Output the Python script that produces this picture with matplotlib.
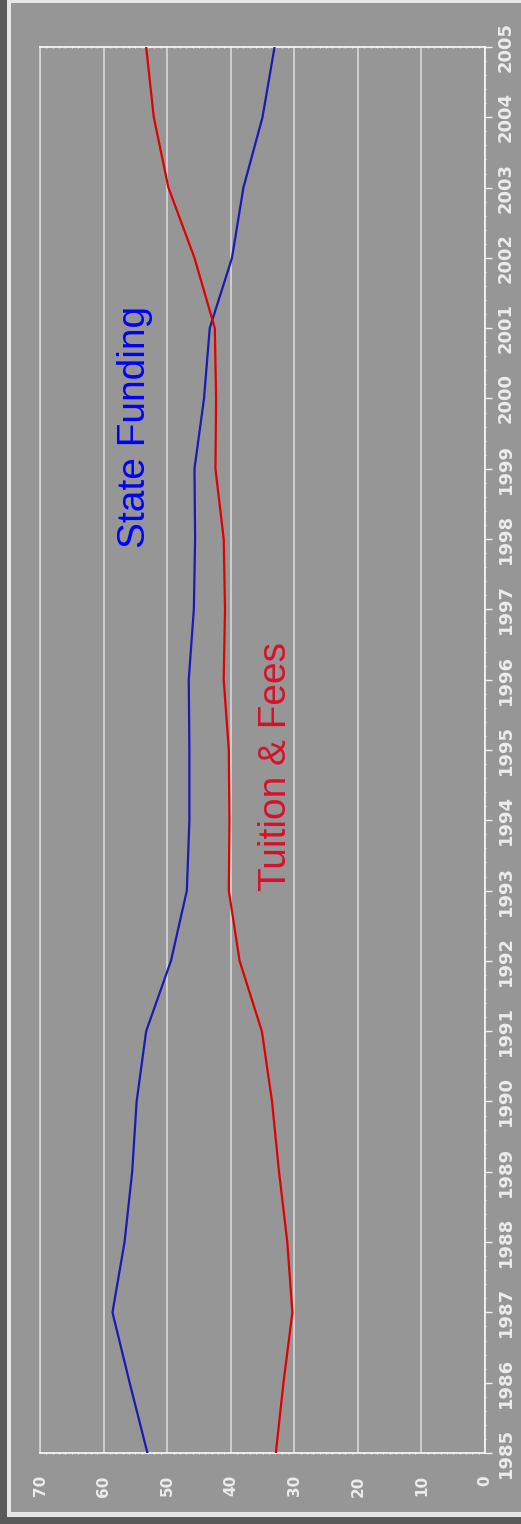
import matplotlib
matplotlib.use("Agg")
import matplotlib.pyplot as plt
from matplotlib.patches import Rectangle
from matplotlib.ticker import MultipleLocator

years = list(range(1985, 2006))
state_funding = [53.1, 55.9, 58.6, 56.7, 55.5, 54.8, 53.3, 49.4, 46.9, 46.5, 46.5,
                 46.6, 45.8, 45.6, 45.7, 44.2, 43.3, 39.8, 38.0, 35.0, 33.1]
tuition_fees = [32.9, 31.7, 30.3, 31.1, 32.4, 33.5, 35.1, 38.6, 40.3, 40.2, 40.3,
                41.1, 40.9, 41.1, 42.4, 42.3, 42.5, 45.7, 49.8, 52.1, 53.3]
value_ticks = [0, 10, 20, 30, 40, 50, 60, 70]
series_labels = ["State Funding", "Tuition & Fees"]

W, H = 521, 1524
fig = plt.figure(figsize=(W / 100, H / 100), dpi=100)
fig.patch.set_facecolor("#5a5a5a")

# frame: white border then gray panel
fig.add_artist(Rectangle((7 / W, (H - 1517) / H), 1, 1, transform=fig.transFigure,
                         facecolor="#e6e6e6", edgecolor="none", zorder=0))
fig.add_artist(Rectangle((11 / W, (H - 1512) / H), 1, (1512 - 3) / H, transform=fig.transFigure,
                         facecolor="#969696", edgecolor="none", zorder=0))

ax = fig.add_axes([40 / W, 1 - 1453 / H, (485 - 40) / W, (1453 - 47) / H])
ax.set_facecolor("#969696")
ax.patch.set_alpha(0)

ax.plot(state_funding, years, color="#1a1ab4", lw=1.6, zorder=3)
ax.plot(tuition_fees, years, color="#e00000", lw=1.6, zorder=3)

ax.set_xlim(70, 0)
ax.set_ylim(1985, 2005)
ax.set_xticks(value_ticks)
ax.set_yticks(years)
ax.xaxis.set_minor_locator(MultipleLocator(1))
ax.yaxis.set_minor_locator(MultipleLocator(0.2))

ax.grid(axis="x", which="major", color="#d9d9d9", lw=1.2, zorder=1)

for s in ["bottom", "top", "right"]:
    ax.spines[s].set_color("#f4f4f4")
    ax.spines[s].set_linewidth(1.3)
ax.spines["left"].set_color("#d9d9d9")
ax.spines["left"].set_linewidth(1.2)

ax.yaxis.tick_right()
ax.tick_params(axis="y", which="major", direction="out", length=5, width=1,
               color="#f0f0f0", pad=3.5, labelrotation=90, labelsize=13,
               labelcolor="#ececec", left=False, right=True)
ax.tick_params(axis="y", which="minor", direction="inout", length=2, width=0.8,
               color="#f0f0f0", left=False, right=True)
ax.tick_params(axis="x", which="major", length=0, pad=16, labelrotation=90,
               labelsize=11, labelcolor="#ececec", top=False)
ax.tick_params(axis="x", which="minor", direction="inout", length=2, width=0.8,
               color="#f0f0f0", bottom=True, top=True)
for lab in ax.get_yticklabels():
    lab.set_fontweight("bold")
    lab.set_va("center")
for lab in ax.get_xticklabels():
    lab.set_fontweight("bold")
    lab.set_ha("center")
    lab.set_va("top")

ax.text(55.1, 1999.6, series_labels[0], rotation=90, color="#0000ff",
        fontsize=28, family="Liberation Sans", ha="center", va="center", zorder=4)
ax.text(32.9, 1994.76, series_labels[1], rotation=90, color="#d8102a",
        fontsize=28, family="Liberation Sans", ha="center", va="center", zorder=4)

fig.savefig("out.png", dpi=100, facecolor=fig.get_facecolor())
